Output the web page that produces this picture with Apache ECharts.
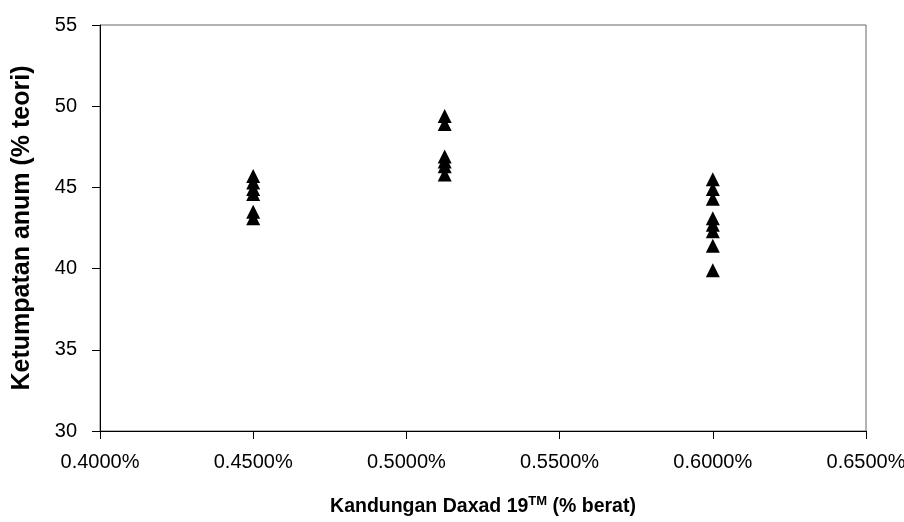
<!DOCTYPE html>
<html lang="en">
<head>
    <meta charset="UTF-8">
    <title>Ketumpatan anum</title>
    <script src="https://cdn.jsdelivr.net/npm/echarts@6/dist/echarts.min.js"></script>
</head>
<body style="margin:0;background:#fff;">
    <div id="main" style="width:904px;height:522px;"></div>
<script type="text/javascript">
    // data (x in %, y in % teori)
    var x045 = [45.7, 45.3, 44.9, 44.6, 43.5, 43.1];
    var x05125 = [49.4, 48.9, 46.9, 46.6, 46.3, 45.8];
    var x060 = [45.5, 44.9, 44.3, 43.1, 42.7, 42.3, 41.4, 39.9];
    var xLevels = [0.45, 0.5125, 0.60];

    var points = [];
    [x045, x05125, x060].forEach(function (arr, i) {
        arr.forEach(function (v) { points.push([xLevels[i], v]); });
    });

    var myChart = echarts.init(document.getElementById('main'));
    var font = 'Liberation Sans, Arial, sans-serif';
    var option = {
        animation: false,
        grid: {
            left: 100, right: 38, top: 25, bottom: 91,
            containLabel: false, outerBoundsMode: 'none',
            show: true, borderColor: '#666', borderWidth: 1
        },
        xAxis: {
            type: 'value',
            min: 0.40, max: 0.65, interval: 0.05,
            splitLine: { show: false },
            axisLine: { lineStyle: { color: '#000', width: 1 } },
            axisTick: { inside: false, length: 8, lineStyle: { color: '#000' } },
            axisLabel: {
                color: '#000', fontSize: 20, fontFamily: font, margin: 21,
                formatter: function (v) { return v.toFixed(4) + '%'; }
            },
            name: '{a|Kandungan Daxad 19}{s|TM}{a| (% berat)}',
            nameLocation: 'middle',
            nameGap: 64,
            nameTextStyle: {
                rich: {
                    a: { fontSize: 19.5, fontWeight: 'bold', fontFamily: font, color: '#000' },
                    s: { fontSize: 13, fontWeight: 'bold', fontFamily: font, color: '#000', verticalAlign: 'top', padding: [0, 0, 10, 0] }
                }
            }
        },
        yAxis: {
            type: 'value',
            min: 30, max: 55, interval: 5,
            splitLine: { show: false },
            axisLine: { show: true, lineStyle: { color: '#000', width: 1 } },
            axisTick: { show: true, length: 8, lineStyle: { color: '#000' } },
            axisLabel: { color: '#000', fontSize: 20, fontFamily: font, margin: 23 },
            name: 'Ketumpatan anum (% teori)',
            nameLocation: 'middle',
            nameGap: 65,
            nameTextStyle: { fontSize: 25, fontWeight: 'bold', fontFamily: font, color: '#000' }
        },
        series: [{
            type: 'scatter',
            symbol: 'triangle',
            symbolSize: 14,
            itemStyle: { color: '#000', opacity: 1 },
            data: points
        }]
    };
    myChart.setOption(option);
</script>
</body>
</html>
